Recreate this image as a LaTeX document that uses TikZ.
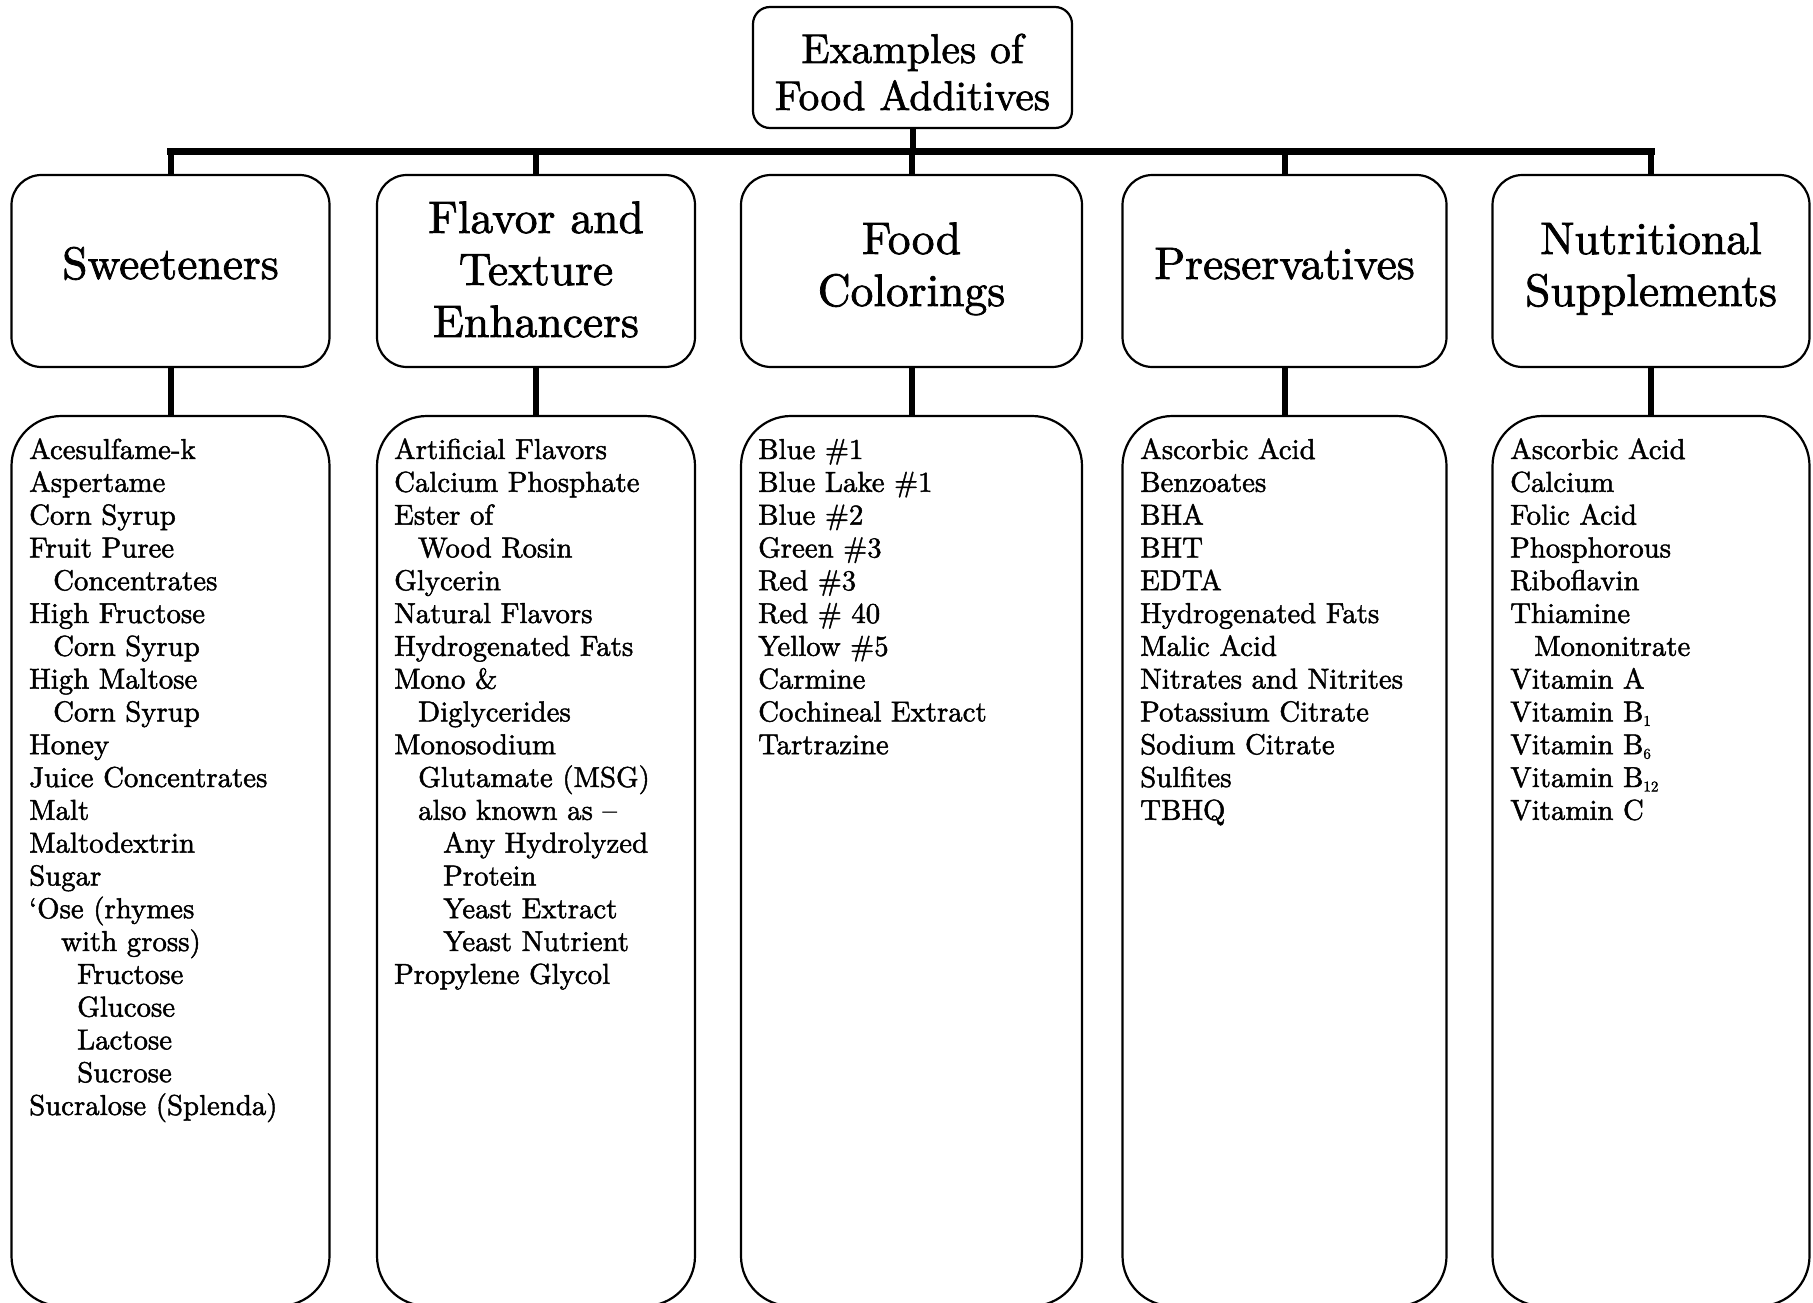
\documentclass[tikz,border=0pt]{standalone}
\usepackage{fontspec}
\setmainfont{lmroman10-regular.otf}[FakeBold=1.6]
\newcommand\ctrlines[2]{\vtop{\baselineskip=#1\relax\lineskiplimit=-100pt\relax\halign{\hfil##\hfil\cr#2\crcr}}}
\newcommand\leftlines[1]{\vtop{\baselineskip=32.8pt\relax\lineskiplimit=-100pt\relax\halign{##\hfil\cr#1\crcr}}}
\newcommand\ind[1]{\hskip#1pt\relax}
\newcommand\vsub[1]{\raisebox{-4.5pt}{\fontsize{15}{15}\selectfont #1}}
\begin{document}
\begin{tikzpicture}[x=1pt,y=-1pt,
  topbox/.style={draw,line width=2.2pt,rounded corners=17pt,minimum width=319pt,minimum height=121pt,inner sep=0pt,outer sep=0pt},
  catbox/.style={draw,line width=2.2pt,rounded corners=30pt,minimum height=192pt,inner sep=0pt,outer sep=0pt},
  listbox/.style={draw,line width=2.2pt,rounded corners=50pt,minimum height=890pt,inner sep=0pt,outer sep=0pt},
  toplabel/.style={anchor=base,inner sep=0pt,font=\fontsize{41.5}{47}\selectfont},
  catlabel/.style={anchor=base,inner sep=0pt,font=\fontsize{45.5}{52}\selectfont},
  items/.style={anchor=base west,inner sep=0pt,font=\fontsize{28.8}{32.8}\selectfont},
  stem/.style={line width=6pt},
  busline/.style={line width=7pt,line cap=rect}]
\useasboundingbox (0,0) rectangle (1813,1303);
\fill[white] (0,0) rectangle (1813,1303);
\clip (0,0) rectangle (1813,1303);

% top
\node[topbox] (top) at (912.5,67.5) {};
\node[toplabel] (toptxt) at (912.5,63) {\ctrlines{47pt}{Examples of\cr Food Additives}};

% categories
\node[catbox,minimum width=318pt] (c1) at (170.5,271) {};
\node[catbox,minimum width=318pt] (c2) at (536,271) {};
\node[catbox,minimum width=341pt] (c3) at (911.5,271) {};
\node[catbox,minimum width=324pt] (c4) at (1284.5,271) {};
\node[catbox,minimum width=317pt] (c5) at (1651,271) {};

\node[catlabel] (t1) at (170.5,279) {\ctrlines{52pt}{Sweeteners}};
\node[catlabel] (t2) at (536,233) {\ctrlines{52pt}{Flavor and\cr Texture\cr Enhancers}};
\node[catlabel] (t3) at (911.5,254) {\ctrlines{52pt}{Food\cr Colorings}};
\node[catlabel] (t4) at (1284.5,279) {\ctrlines{52pt}{Preservatives}};
\node[catlabel] (t5) at (1651,254) {\ctrlines{52pt}{Nutritional\cr Supplements}};

% lists
\node[listbox,minimum width=318pt] (l1) at (170.5,861) {};
\node[listbox,minimum width=318pt] (l2) at (536,861) {};
\node[listbox,minimum width=341pt] (l3) at (911.5,861) {};
\node[listbox,minimum width=324pt] (l4) at (1284.5,861) {};
\node[listbox,minimum width=317pt] (l5) at (1651,861) {};

\node[items] (i1) at (29,459) {\leftlines{%
Acesulfame-k\cr
Aspertame\cr
Corn Syrup\cr
Fruit Puree\cr
\ind{24}Concentrates\cr
High Fructose\cr
\ind{24}Corn Syrup\cr
High Maltose\cr
\ind{24}Corn Syrup\cr
Honey\cr
Juice Concentrates\cr
Malt\cr
Maltodextrin\cr
Sugar\cr
`Ose (rhymes\cr
\ind{32}with gross)\cr
\ind{48}Fructose\cr
\ind{48}Glucose\cr
\ind{48}Lactose\cr
\ind{48}Sucrose\cr
Sucralose (Splenda)}};

\node[items] (i2) at (394,459) {\leftlines{%
Artificial Flavors\cr
Calcium Phosphate\cr
Ester of\cr
\ind{24}Wood Rosin\cr
Glycerin\cr
Natural Flavors\cr
Hydrogenated Fats\cr
Mono \&\cr
\ind{24}Diglycerides\cr
Monosodium\cr
\ind{24}Glutamate (MSG)\cr
\ind{24}also known as --\cr
\ind{49}Any Hydrolyzed\cr
\ind{49}Protein\cr
\ind{49}Yeast Extract\cr
\ind{49}Yeast Nutrient\cr
Propylene Glycol}};

\node[items] (i3) at (758,459) {\leftlines{%
Blue \#1\cr
Blue Lake \#1\cr
Blue \#2\cr
Green \#3\cr
Red \#3\cr
Red \# 40\cr
Yellow \#5\cr
Carmine\cr
Cochineal Extract\cr
Tartrazine}};

\node[items] (i4) at (1140,459) {\leftlines{%
Ascorbic Acid\cr
Benzoates\cr
BHA\cr
BHT\cr
EDTA\cr
Hydrogenated Fats\cr
Malic Acid\cr
Nitrates and Nitrites\cr
Potassium Citrate\cr
Sodium Citrate\cr
Sulfites\cr
TBHQ}};

\node[items] (i5) at (1510,459) {\leftlines{%
Ascorbic Acid\cr
Calcium\cr
Folic Acid\cr
Phosphorous\cr
Riboflavin\cr
Thiamine\cr
\ind{24}Mononitrate\cr
Vitamin A\cr
Vitamin B\vsub{1}\cr
Vitamin B\vsub{6}\cr
Vitamin B\vsub{12}\cr
Vitamin C}};

% connectors
\coordinate (bus) at (912.5,151.5);
\draw[stem] (top.south) -- (top.south |- bus);
\draw[busline] (c1.north |- bus) -- (c5.north |- bus);
\foreach \k in {1,...,5}{
  \draw[stem] (c\k.north |- bus) -- (c\k.north);
  \draw[stem] (c\k.south) -- (l\k.north);
}
\end{tikzpicture}
\end{document}
